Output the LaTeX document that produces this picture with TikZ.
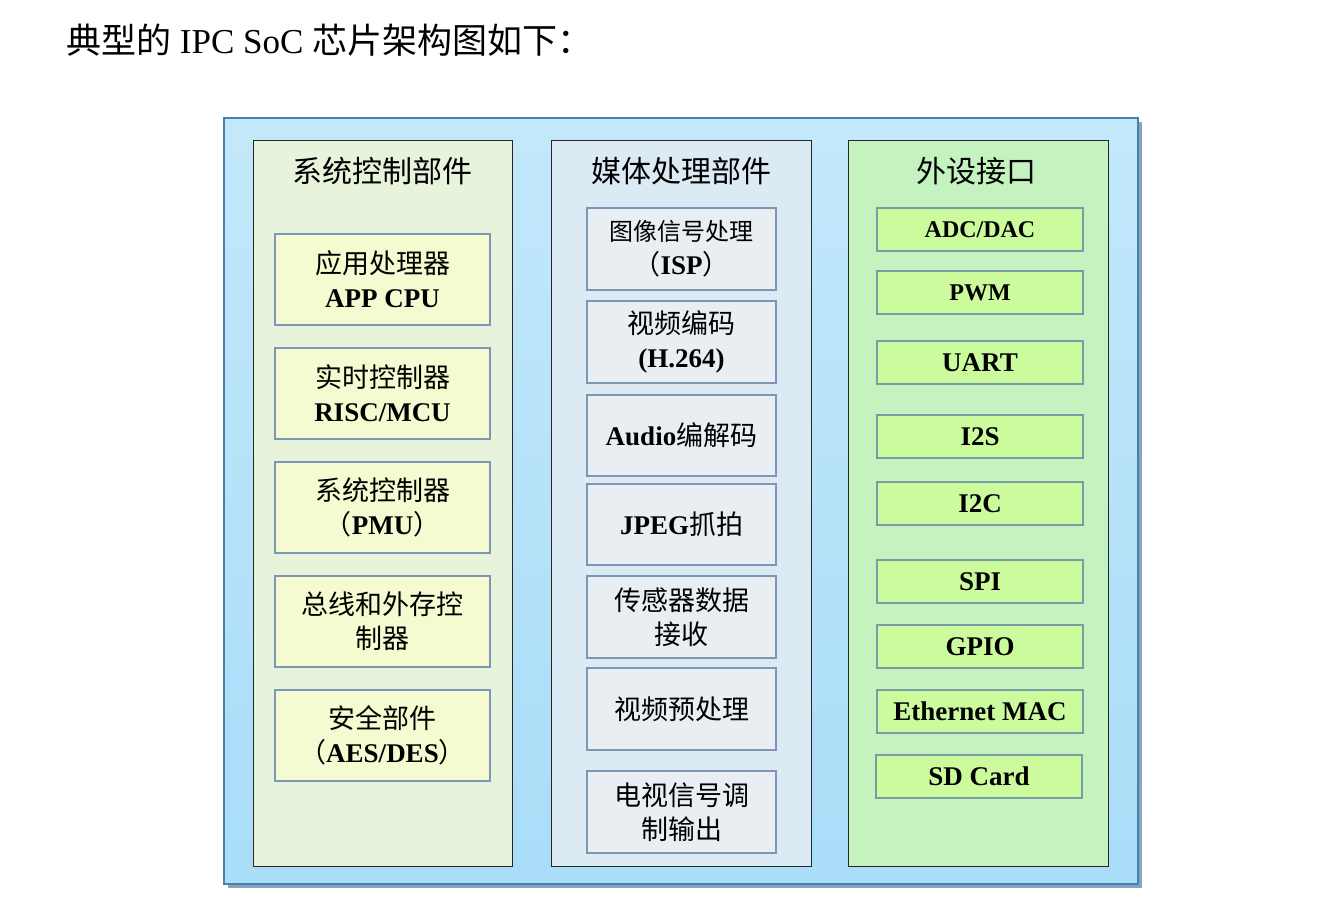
\documentclass[tikz,border=0pt]{standalone}
\usepackage{fontspec}
\setmainfont{Liberation Serif}
\newfontfamily\cjk{Noto Sans CJK SC}
\definecolor{outertop}{HTML}{C3E8FA}
\definecolor{outerbot}{HTML}{A9DDF8}
\definecolor{outerline}{HTML}{4581AC}
\definecolor{shadowc}{HTML}{86A5BC}
\definecolor{colA}{HTML}{E8F3DC}
\definecolor{colB}{HTML}{DCEAF4}
\definecolor{colC}{HTML}{C4F3BF}
\definecolor{boxA}{HTML}{F5FAD1}
\definecolor{boxB}{HTML}{E9EEF3}
\definecolor{boxC}{HTML}{CCFB9D}
\definecolor{boxline}{HTML}{7C96B8}
\definecolor{boxlineC}{HTML}{7A9AA6}
\begin{document}
\begin{tikzpicture}[x=1pt,y=-1pt,
  column/.style={draw=black!85,line width=1pt,minimum width=259,minimum height=726,inner sep=0pt},
  boxa/.style={draw=boxline,fill=boxA,line width=1.1pt,minimum width=215,minimum height=91,inner sep=0pt,align=center,font=\fontsize{27}{34}\selectfont},
  boxb/.style={draw=boxline,fill=boxB,line width=1.1pt,minimum width=189,minimum height=82,inner sep=0pt,align=center,font=\fontsize{27}{34}\selectfont},
  boxc/.style={draw=boxlineC,fill=boxC,line width=1.1pt,minimum width=206,minimum height=43,inner sep=0pt,align=center,font=\fontsize{27}{30}\selectfont\bfseries},
  boxcs/.style={boxc,font=\fontsize{24}{30}\selectfont\bfseries},
  header/.style={inner sep=0pt,font=\fontsize{30}{36}\selectfont\cjk}
]
\useasboundingbox (0,0) rectangle (1330,898);
\fill[white] (0,0) rectangle (1330,898);
% title
\node[anchor=west,inner sep=0pt,font=\fontsize{35}{40}\selectfont] (title) at (66,40) {{\cjk 典型的} IPC SoC {\cjk 芯片架构图如下：}};
% outer frame
\fill[shadowc] (228,122) rectangle (1142,888);
\node[draw=outerline,line width=1.5pt,top color=outertop,bottom color=outerbot,minimum width=914,minimum height=766,inner sep=0pt] (outer) at (681,501) {};
% columns
\node[column,fill=colA] (colA) at (382.5,503) {};
\node[column,fill=colB,minimum width=260] (colB) at (681,503) {};
\node[column,fill=colC,minimum width=260] (colC) at (978,503) {};
\node[header] (hA) at (382.5,171) {系统控制部件};
\node[header] (hB) at (681,171) {媒体处理部件};
\node[header] (hC) at (976,171) {外设接口};
% column A
\node[boxa] (a1) at (382.5,279.5) {{\cjk 应用处理器}\\\textbf{APP CPU}};
\node[boxa] (a2) at (382.5,393.5) {{\cjk 实时控制器}\\\textbf{RISC/MCU}};
\node[boxa] (a3) at (382.5,507.5) {{\cjk 系统控制器}\\{\cjk （}\textbf{PMU}{\cjk ）}};
\node[boxa] (a4) at (382.5,621.5) {{\cjk 总线和外存控}\\{\cjk 制器}};
\node[boxa] (a5) at (382.5,735.5) {{\cjk 安全部件}\\{\cjk （}\textbf{AES/DES}{\cjk ）}};
% column B
\node[boxb] (b1) at (681.5,249) {{\fontsize{24}{34}\selectfont\cjk 图像信号处理}\\{\cjk （}\textbf{ISP}{\cjk ）}};
\node[boxb] (b2) at (681.5,342) {{\cjk 视频编码}\\\textbf{(H.264)}};
\node[boxb,minimum height=81] (b3) at (681.5,435.5) {\textbf{Audio}{\cjk 编解码}};
\node[boxb,minimum height=81] (b4) at (681.5,524.5) {\textbf{JPEG}{\cjk 抓拍}};
\node[boxb] (b5) at (681.5,617) {{\cjk 传感器数据}\\{\cjk 接收}};
\node[boxb] (b6) at (681.5,709) {{\cjk 视频预处理}};
\node[boxb] (b7) at (681.5,812) {{\cjk 电视信号调}\\{\cjk 制输出}};
% column C
\node[boxcs] (c1) at (980,229.5) {ADC/DAC};
\node[boxcs] (c2) at (980,292.5) {PWM};
\node[boxc] (c3) at (980,362.5) {UART};
\node[boxc] (c4) at (980,436.5) {I2S};
\node[boxc] (c5) at (980,503.5) {I2C};
\node[boxc] (c6) at (980,581.5) {SPI};
\node[boxc] (c7) at (980,646.5) {GPIO};
\node[boxc] (c8) at (980,711.5) {Ethernet MAC};
\node[boxc] (c9) at (979,776.5) {SD Card};
\end{tikzpicture}
\end{document}
